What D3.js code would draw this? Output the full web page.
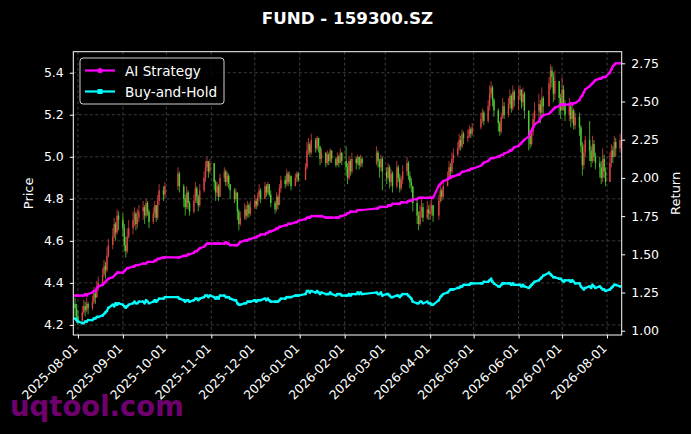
<!DOCTYPE html>
<html>
<head>
<meta charset="utf-8">
<script src="https://cdn.jsdelivr.net/npm/d3@7"></script>
<style>
  body { margin: 0; background: #000; }
  text { font-family: "DejaVu Sans", sans-serif; }
</style>
</head>
<body>
<div id="chart"></div>
<script>
// exchange holidays falling on weekdays (no candles on these days)
var holidays = ['2025-10-01', '2025-10-02', '2025-10-03', '2025-10-06', '2025-10-07', '2025-10-08',
  '2026-01-01', '2026-01-02', '2026-02-16', '2026-02-17', '2026-02-18', '2026-02-19', '2026-02-20',
  '2026-04-06', '2026-05-01', '2026-05-04', '2026-05-05', '2026-06-19'];
var firstDay = '2025-07-30';
var firstOpen = 4.30;

// daily close / high / low, one line per month
var closeP = [
  4.28, 4.24,
  4.22, 4.26, 4.29, 4.27, 4.30, 4.28, 4.31, 4.35, 4.33, 4.38, 4.40, 4.44, 4.48, 4.46, 4.53, 4.58, 4.62, 4.68, 4.64, 4.72, 4.70,
  4.66, 4.58, 4.55, 4.62, 4.66, 4.70, 4.73, 4.68, 4.71, 4.74, 4.76, 4.72, 4.78, 4.74, 4.69, 4.73, 4.77, 4.71, 4.79, 4.84, 4.82, 4.86,
  4.92, 4.86, 4.80, 4.76, 4.83, 4.78, 4.74, 4.79, 4.85, 4.81, 4.77, 4.84, 4.90, 4.95, 4.98, 4.93, 4.97,
  4.88, 4.83, 4.86, 4.81, 4.90, 4.93, 4.88, 4.91, 4.87, 4.84, 4.80, 4.83, 4.74, 4.68, 4.71, 4.75, 4.72, 4.77, 4.73, 4.76,
  4.79, 4.77, 4.81, 4.84, 4.80, 4.86, 4.83, 4.87, 4.82, 4.78, 4.75, 4.81, 4.77, 4.85, 4.89, 4.87, 4.92, 4.88, 4.91, 4.86, 4.90, 4.92, 4.89,
  4.95, 5.03, 5.06, 5.02, 5.08, 5.04, 5.09, 5.05, 4.99, 5.02, 4.97, 5.01, 4.98, 5.03, 4.99, 4.96, 5.00, 4.97, 5.02, 4.98,
  4.95, 4.90, 4.98, 4.93, 4.99, 4.97, 5.00, 4.96, 4.99, 4.97, 5.02, 4.98, 4.95, 4.99, 4.93,
  4.90, 4.95, 4.88, 4.92, 4.86, 4.95, 4.90, 4.85, 4.89, 4.93, 4.97, 4.91, 4.88, 4.86, 4.78, 4.72, 4.68, 4.74, 4.76, 4.71, 4.75, 4.73,
  4.74, 4.77, 4.72, 4.79, 4.84, 4.81, 4.86, 4.90, 4.95, 4.93, 4.99, 5.01, 5.04, 5.08, 5.05, 5.11, 5.09, 5.10, 5.13, 5.11, 5.14,
  5.18, 5.21, 5.17, 5.24, 5.30, 5.33, 5.27, 5.22, 5.16, 5.12, 5.19, 5.24, 5.20, 5.25, 5.29, 5.23, 5.31, 5.27,
  5.29, 5.32, 5.26, 5.30, 5.22, 5.10, 5.06, 5.12, 5.18, 5.22, 5.25, 5.21, 5.28, 5.24, 5.35, 5.41, 5.38, 5.30, 5.36, 5.28, 5.22,
  5.32, 5.25, 5.20, 5.24, 5.18, 5.22, 5.15, 5.19, 5.14, 5.05, 4.96, 5.02, 5.08, 5.03, 4.98, 5.06, 5.00, 4.97, 4.95, 4.90, 4.99, 4.93, 4.88,
  4.97, 5.03, 5.00, 5.07, 5.04, 5.08
];
var hiP = [
  4.33, 4.30,
  4.27, 4.29, 4.32, 4.31, 4.33, 4.31, 4.34, 4.38, 4.37, 4.41, 4.43, 4.47, 4.51, 4.50, 4.57, 4.61, 4.66, 4.71, 4.69, 4.75, 4.74,
  4.73, 4.68, 4.62, 4.66, 4.70, 4.74, 4.76, 4.74, 4.75, 4.77, 4.79, 4.77, 4.80, 4.79, 4.75, 4.76, 4.79, 4.76, 4.82, 4.87, 4.86, 4.88,
  4.95, 4.93, 4.87, 4.82, 4.86, 4.84, 4.79, 4.82, 4.88, 4.86, 4.82, 4.87, 4.93, 4.98, 5.00, 4.98, 4.99,
  4.93, 4.89, 4.88, 4.87, 4.92, 4.95, 4.94, 4.93, 4.92, 4.87, 4.85, 4.85, 4.80, 4.75, 4.74, 4.78, 4.77, 4.79, 4.78, 4.79,
  4.82, 4.80, 4.83, 4.87, 4.85, 4.88, 4.87, 4.88, 4.87, 4.84, 4.79, 4.83, 4.82, 4.87, 4.91, 4.91, 4.94, 4.93, 4.93, 4.91, 4.92, 4.93, 4.93,
  4.97, 5.07, 5.09, 5.07, 5.11, 5.09, 5.10, 5.09, 5.04, 5.04, 5.02, 5.03, 5.02, 5.04, 5.03, 5.00, 5.02, 5.01, 5.04, 5.02,
  5.05, 4.97, 5.00, 4.99, 5.02, 5.00, 5.01, 5.00, 5.01, 5.00, 5.05, 5.03, 4.99, 5.01, 5.00,
  4.95, 4.97, 4.96, 4.94, 4.93, 4.98, 4.96, 4.92, 4.91, 4.96, 5.00, 4.98, 4.93, 4.90, 4.83, 4.80, 4.74, 4.77, 4.80, 4.78, 4.79, 4.77,
  4.78, 4.81, 4.77, 4.82, 4.87, 4.85, 4.89, 4.93, 4.98, 4.97, 5.02, 5.04, 5.07, 5.11, 5.10, 5.13, 5.12, 5.13, 5.15, 5.14, 5.16,
  5.21, 5.23, 5.22, 5.27, 5.34, 5.36, 5.34, 5.28, 5.23, 5.17, 5.21, 5.28, 5.26, 5.28, 5.32, 5.30, 5.34, 5.32,
  5.33, 5.34, 5.32, 5.33, 5.31, 5.14, 5.12, 5.14, 5.21, 5.26, 5.30, 5.27, 5.33, 5.29, 5.38, 5.44, 5.43, 5.40, 5.41, 5.36, 5.30,
  5.38, 5.34, 5.27, 5.28, 5.26, 5.25, 5.23, 5.21, 5.21, 5.15, 5.07, 5.06, 5.10, 5.17, 5.05, 5.10, 5.08, 5.02, 5.00, 4.98, 5.04, 5.01, 4.95,
  5.02, 5.06, 5.05, 5.10, 5.09, 5.11
];
var loP = [
  4.24, 4.21,
  4.20, 4.21, 4.25, 4.24, 4.26, 4.25, 4.27, 4.30, 4.30, 4.33, 4.36, 4.39, 4.43, 4.42, 4.45, 4.52, 4.56, 4.61, 4.60, 4.63, 4.65,
  4.62, 4.55, 4.52, 4.54, 4.61, 4.63, 4.67, 4.65, 4.66, 4.69, 4.70, 4.68, 4.71, 4.72, 4.66, 4.68, 4.71, 4.69, 4.70, 4.77, 4.79, 4.80,
  4.84, 4.83, 4.76, 4.72, 4.75, 4.75, 4.72, 4.73, 4.78, 4.78, 4.74, 4.76, 4.83, 4.88, 4.93, 4.90, 4.92,
  4.84, 4.79, 4.81, 4.79, 4.85, 4.88, 4.86, 4.86, 4.85, 4.80, 4.78, 4.79, 4.70, 4.65, 4.67, 4.70, 4.70, 4.71, 4.71, 4.72,
  4.75, 4.75, 4.76, 4.79, 4.78, 4.80, 4.81, 4.82, 4.81, 4.76, 4.73, 4.74, 4.75, 4.77, 4.83, 4.85, 4.86, 4.86, 4.87, 4.84, 4.86, 4.88, 4.88,
  4.90, 4.94, 5.01, 5.00, 5.01, 5.02, 5.03, 5.02, 4.96, 4.97, 4.95, 4.96, 4.96, 4.97, 4.97, 4.95, 4.96, 4.95, 4.97, 4.96,
  4.91, 4.87, 4.89, 4.91, 4.92, 4.94, 4.96, 4.94, 4.95, 4.95, 4.96, 4.95, 4.90, 4.93, 4.84,
  4.87, 4.89, 4.85, 4.86, 4.83, 4.85, 4.88, 4.83, 4.84, 4.87, 4.91, 4.89, 4.85, 4.83, 4.74, 4.68, 4.65, 4.67, 4.71, 4.69, 4.70, 4.70,
  4.70, 4.72, 4.69, 4.70, 4.78, 4.79, 4.80, 4.86, 4.89, 4.90, 4.92, 4.97, 5.00, 5.03, 5.03, 5.04, 5.06, 5.07, 5.09, 5.09, 5.10,
  5.13, 5.16, 5.15, 5.16, 5.22, 5.28, 5.24, 5.19, 5.12, 5.10, 5.11, 5.18, 5.18, 5.19, 5.23, 5.21, 5.22, 5.24,
  5.22, 5.27, 5.23, 5.24, 5.18, 5.03, 5.04, 5.05, 5.10, 5.16, 5.18, 5.16, 5.19, 5.20, 5.24, 5.32, 5.33, 5.26, 5.27, 5.20, 5.18,
  5.25, 5.22, 5.17, 5.17, 5.14, 5.16, 5.13, 5.13, 5.10, 5.02, 4.91, 4.94, 5.00, 4.98, 4.95, 4.97, 4.98, 4.94, 4.90, 4.87, 4.88, 4.90, 4.86,
  4.90, 4.95, 4.97, 5.01, 5.00, 5.02
];

// cumulative returns of the two curves
var aiRet = [
  1.23, 1.23,
  1.23, 1.23, 1.23, 1.24, 1.23, 1.24, 1.25, 1.26, 1.26, 1.28, 1.29, 1.30, 1.31, 1.32, 1.33, 1.34, 1.35, 1.36, 1.37, 1.38, 1.38,
  1.38, 1.39, 1.40, 1.41, 1.41, 1.42, 1.42, 1.43, 1.43, 1.43, 1.44, 1.44, 1.44, 1.45, 1.45, 1.45, 1.46, 1.46, 1.47, 1.47, 1.48, 1.48,
  1.48, 1.48, 1.49, 1.49, 1.49, 1.50, 1.50, 1.51, 1.52, 1.52, 1.53, 1.54, 1.55, 1.56, 1.57, 1.57, 1.57,
  1.57, 1.57, 1.57, 1.57, 1.57, 1.57, 1.58, 1.57, 1.57, 1.56, 1.56, 1.56, 1.56, 1.57, 1.58, 1.59, 1.59, 1.59, 1.60, 1.60,
  1.61, 1.61, 1.62, 1.62, 1.63, 1.63, 1.64, 1.64, 1.65, 1.65, 1.66, 1.67, 1.67, 1.68, 1.68, 1.69, 1.69, 1.70, 1.70, 1.70, 1.71, 1.71, 1.72,
  1.73, 1.74, 1.74, 1.74, 1.75, 1.75, 1.75, 1.75, 1.75, 1.75, 1.74, 1.74, 1.74, 1.74, 1.74, 1.74, 1.74, 1.74, 1.75, 1.75,
  1.76, 1.77, 1.77, 1.78, 1.78, 1.78, 1.79, 1.79, 1.79, 1.79, 1.80, 1.80, 1.81, 1.81, 1.81,
  1.81, 1.82, 1.82, 1.82, 1.83, 1.83, 1.83, 1.83, 1.84, 1.84, 1.84, 1.85, 1.85, 1.85, 1.86, 1.86, 1.87, 1.87, 1.87, 1.87, 1.87, 1.87,
  1.87, 1.87, 1.87, 1.95, 1.96, 1.97, 1.98, 1.99, 2.00, 2.00, 2.01, 2.01, 2.02, 2.02, 2.03, 2.04, 2.04, 2.05, 2.05, 2.06, 2.06,
  2.08, 2.09, 2.10, 2.11, 2.12, 2.13, 2.13, 2.13, 2.14, 2.14, 2.15, 2.15, 2.16, 2.17, 2.18, 2.18, 2.19, 2.20,
  2.21, 2.22, 2.23, 2.24, 2.25, 2.27, 2.30, 2.31, 2.33, 2.35, 2.37, 2.39, 2.40, 2.41, 2.42, 2.43, 2.44, 2.45, 2.46, 2.47, 2.48,
  2.48, 2.48, 2.48, 2.48, 2.49, 2.48, 2.49, 2.49, 2.51, 2.53, 2.54, 2.56, 2.58, 2.60, 2.61, 2.62, 2.63, 2.64, 2.65, 2.65, 2.66, 2.66, 2.66,
  2.69, 2.71, 2.73, 2.74, 2.75, 2.75
];
var bhRet = [
  1.08, 1.07,
  1.06, 1.05, 1.05, 1.06, 1.06, 1.07, 1.07, 1.08, 1.08, 1.09, 1.09, 1.10, 1.11, 1.12, 1.13, 1.15, 1.17, 1.16, 1.18, 1.17, 1.18,
  1.17, 1.16, 1.15, 1.16, 1.17, 1.18, 1.19, 1.18, 1.18, 1.19, 1.19, 1.18, 1.20, 1.19, 1.18, 1.19, 1.20, 1.19, 1.20, 1.21, 1.21, 1.22,
  1.22, 1.21, 1.20, 1.19, 1.20, 1.20, 1.19, 1.20, 1.21, 1.21, 1.20, 1.21, 1.22, 1.23, 1.23, 1.22, 1.23,
  1.22, 1.21, 1.22, 1.21, 1.23, 1.23, 1.22, 1.22, 1.22, 1.21, 1.20, 1.20, 1.18, 1.17, 1.17, 1.18, 1.18, 1.19, 1.19, 1.19,
  1.20, 1.19, 1.20, 1.20, 1.20, 1.21, 1.20, 1.21, 1.20, 1.19, 1.19, 1.19, 1.19, 1.20, 1.21, 1.21, 1.22, 1.22, 1.22, 1.22, 1.23, 1.23, 1.23,
  1.24, 1.26, 1.26, 1.25, 1.26, 1.25, 1.26, 1.25, 1.24, 1.25, 1.24, 1.24, 1.24, 1.25, 1.24, 1.23, 1.24, 1.24, 1.24, 1.23,
  1.23, 1.23, 1.24, 1.23, 1.24, 1.24, 1.25, 1.24, 1.25, 1.24, 1.25, 1.24, 1.24, 1.25, 1.23,
  1.24, 1.24, 1.23, 1.22, 1.22, 1.23, 1.23, 1.22, 1.23, 1.24, 1.24, 1.23, 1.22, 1.21, 1.19, 1.18, 1.18, 1.19, 1.19, 1.18, 1.19, 1.18,
  1.18, 1.17, 1.17, 1.20, 1.22, 1.23, 1.24, 1.25, 1.26, 1.27, 1.27, 1.27, 1.28, 1.28, 1.29, 1.29, 1.30, 1.30, 1.30, 1.31, 1.31,
  1.31, 1.31, 1.32, 1.32, 1.33, 1.34, 1.32, 1.31, 1.29, 1.29, 1.30, 1.31, 1.31, 1.31, 1.31, 1.30, 1.31, 1.30,
  1.30, 1.30, 1.29, 1.30, 1.29, 1.28, 1.29, 1.30, 1.31, 1.32, 1.33, 1.34, 1.35, 1.36, 1.38, 1.37, 1.36, 1.35, 1.35, 1.34, 1.34,
  1.33, 1.32, 1.33, 1.33, 1.32, 1.33, 1.32, 1.31, 1.31, 1.29, 1.28, 1.27, 1.28, 1.29, 1.28, 1.30, 1.29, 1.28, 1.29, 1.28, 1.27, 1.27, 1.26,
  1.27, 1.28, 1.29, 1.30, 1.30, 1.29
];

var priceTicks = [4.2, 4.4, 4.6, 4.8, 5.0, 5.2, 5.4];
var retTicks = [1.00, 1.25, 1.50, 1.75, 2.00, 2.25, 2.50, 2.75];
var monthTicks = ['2025-08-01', '2025-09-01', '2025-10-01', '2025-11-01', '2025-12-01', '2026-01-01', '2026-02-01',
  '2026-03-01', '2026-04-01', '2026-05-01', '2026-06-01', '2026-07-01', '2026-08-01'];

var width = 691, height = 434,
    mL = 73.3, mR = 621.7, mT = 51.7, mB = 335,
    upColor = '#ff4f4f', downColor = '#5cf03f';

var parse = d3.utcParse('%Y-%m-%d'),
    fmt = d3.utcFormat('%Y-%m-%d'),
    hol = new Set(holidays);

// trading calendar: weekdays minus holidays
var dates = [];
for (var d = parse(firstDay); dates.length < closeP.length; d = d3.utcDay.offset(d, 1)) {
    var wd = d.getUTCDay();
    if (wd === 0 || wd === 6 || hol.has(fmt(d))) continue;
    dates.push(d);
}

var x = d3.scaleUtc()
    .domain([new Date(Date.UTC(2025, 6, 28, 19)), new Date(Date.UTC(2026, 7, 11, 3))])
    .range([mL, mR]);
var yP = d3.scaleLinear().domain([4.152, 5.50]).range([mB, mT]);
var yR = d3.scaleLinear().domain([0.972, 2.826]).range([mB, mT]);

var svg = d3.select('#chart').append('svg')
    .attr('width', width).attr('height', height)
    .style('display', 'block').style('background', '#000');

// grid
var grid = svg.append('g').attr('stroke', '#4a4a4a').attr('stroke-width', 0.8).attr('stroke-dasharray', '3,2.5');
grid.selectAll('line.h').data(priceTicks).enter().append('line')
    .attr('x1', mL).attr('x2', mR)
    .attr('y1', function (v) { return yP(v); }).attr('y2', function (v) { return yP(v); });
grid.selectAll('line.v').data(monthTicks).enter().append('line')
    .attr('y1', mT).attr('y2', mB)
    .attr('x1', function (s) { return x(parse(s)); }).attr('x2', function (s) { return x(parse(s)); });

// candles
var candles = dates.map(function (dt, i) {
    return { d: dt, o: i ? closeP[i - 1] : firstOpen, c: closeP[i], h: hiP[i], l: loP[i] };
});
var cg = svg.append('g').attr('opacity', 0.85);
var cs = cg.selectAll('g').data(candles).enter().append('g');
cs.append('line')
    .attr('x1', function (k) { return x(k.d); }).attr('x2', function (k) { return x(k.d); })
    .attr('y1', function (k) { return yP(Math.max(k.h, k.o, k.c)); })
    .attr('y2', function (k) { return yP(Math.min(k.l, k.o, k.c)); })
    .attr('stroke', function (k) { return k.c >= k.o ? upColor : downColor; })
    .attr('stroke-width', 0.8);
cs.append('rect')
    .attr('x', function (k) { return x(k.d) - 0.7; })
    .attr('width', 1.4)
    .attr('y', function (k) { return yP(Math.max(k.o, k.c)); })
    .attr('height', function (k) { return Math.max(1, Math.abs(yP(k.o) - yP(k.c))); })
    .attr('fill', function (k) { return k.c >= k.o ? upColor : downColor; });

// return curves
function drawCurve(vals, color, square) {
    var pts = dates.map(function (dt, i) { return [x(dt), yR(vals[i])]; });
    svg.append('path')
        .attr('d', d3.line()(pts))
        .attr('fill', 'none').attr('stroke', color).attr('stroke-width', 2.2)
        .attr('stroke-linejoin', 'round');
    var mk = svg.append('g').attr('fill', color);
    if (square) {
        mk.selectAll('rect').data(pts).enter().append('rect')
            .attr('x', function (p) { return p[0] - 1.2; }).attr('y', function (p) { return p[1] - 1.2; })
            .attr('width', 2.4).attr('height', 2.4);
    } else {
        mk.selectAll('circle').data(pts).enter().append('circle')
            .attr('cx', function (p) { return p[0]; }).attr('cy', function (p) { return p[1]; })
            .attr('r', 1.3);
    }
}
drawCurve(aiRet, '#ff00ff', false);
drawCurve(bhRet, '#00ffff', true);

// axes
function styleAxis(g) {
    g.select('.domain').remove();
    g.selectAll('line').attr('stroke', '#fff');
    g.selectAll('text').attr('fill', '#fff').attr('font-size', '12.5px')
        .attr('font-family', '"DejaVu Sans", sans-serif');
}
svg.append('g').attr('transform', 'translate(' + mL + ',0)')
    .call(d3.axisLeft(yP).tickValues(priceTicks).tickFormat(d3.format('.1f')).tickSize(3.5).tickPadding(6))
    .call(styleAxis);
svg.append('g').attr('transform', 'translate(' + mR + ',0)')
    .call(d3.axisRight(yR).tickValues(retTicks).tickFormat(d3.format('.2f')).tickSize(3.5).tickPadding(6))
    .call(styleAxis);
var xa = svg.append('g').attr('transform', 'translate(0,' + mB + ')')
    .call(d3.axisBottom(x).tickValues(monthTicks.map(parse)).tickFormat(fmt).tickSize(3.5))
    .call(styleAxis);
xa.selectAll('text')
    .attr('x', 0).attr('y', 0).attr('dy', '0.35em')
    .attr('text-anchor', 'end')
    .attr('transform', 'translate(-3,11) rotate(-45)');

// frame
svg.append('rect').attr('x', mL).attr('y', mT)
    .attr('width', mR - mL).attr('height', mB - mT)
    .attr('fill', 'none').attr('stroke', '#fff').attr('stroke-width', 1);

// labels
svg.append('text').attr('x', (mL + mR) / 2).attr('y', 24)
    .attr('text-anchor', 'middle').attr('fill', '#fff')
    .attr('font-size', '16.7px').attr('font-weight', 'bold')
    .text('FUND - 159300.SZ');
svg.append('text').attr('transform', 'translate(33,' + (mT + mB) / 2 + ') rotate(-90)')
    .attr('text-anchor', 'middle').attr('fill', '#fff').attr('font-size', '13px')
    .text('Price');
svg.append('text').attr('transform', 'translate(680,' + (mT + mB) / 2 + ') rotate(-90)')
    .attr('text-anchor', 'middle').attr('fill', '#fff').attr('font-size', '13px')
    .text('Return');

// legend
var lg = svg.append('g');
lg.append('rect').attr('x', 80).attr('y', 58).attr('width', 144).attr('height', 46).attr('rx', 3)
    .attr('fill', '#000').attr('fill-opacity', 0.8).attr('stroke', '#cfcfcf').attr('stroke-width', 1);
var items = [
    { name: 'AI Strategy', color: '#ff00ff', square: false },
    { name: 'Buy-and-Hold', color: '#00ffff', square: true }
];
items.forEach(function (it, i) {
    var yy = 70.5 + i * 21;
    lg.append('line').attr('x1', 85).attr('x2', 115).attr('y1', yy).attr('y2', yy)
        .attr('stroke', it.color).attr('stroke-width', 2.2);
    if (it.square) {
        lg.append('rect').attr('x', 97.5).attr('y', yy - 2.5).attr('width', 5).attr('height', 5).attr('fill', it.color);
    } else {
        lg.append('circle').attr('cx', 100).attr('cy', yy).attr('r', 2.6).attr('fill', it.color);
    }
    lg.append('text').attr('x', 125).attr('y', yy + 5).attr('fill', '#fff')
        .attr('font-size', '13.6px').text(it.name);
});

// watermark
svg.append('text').attr('x', 10).attr('y', 416)
    .attr('fill', '#800080').attr('fill-opacity', 0.9)
    .attr('font-size', '27.5px').attr('font-weight', 'bold')
    .text('uqtool.com');
</script>
</body>
</html>
